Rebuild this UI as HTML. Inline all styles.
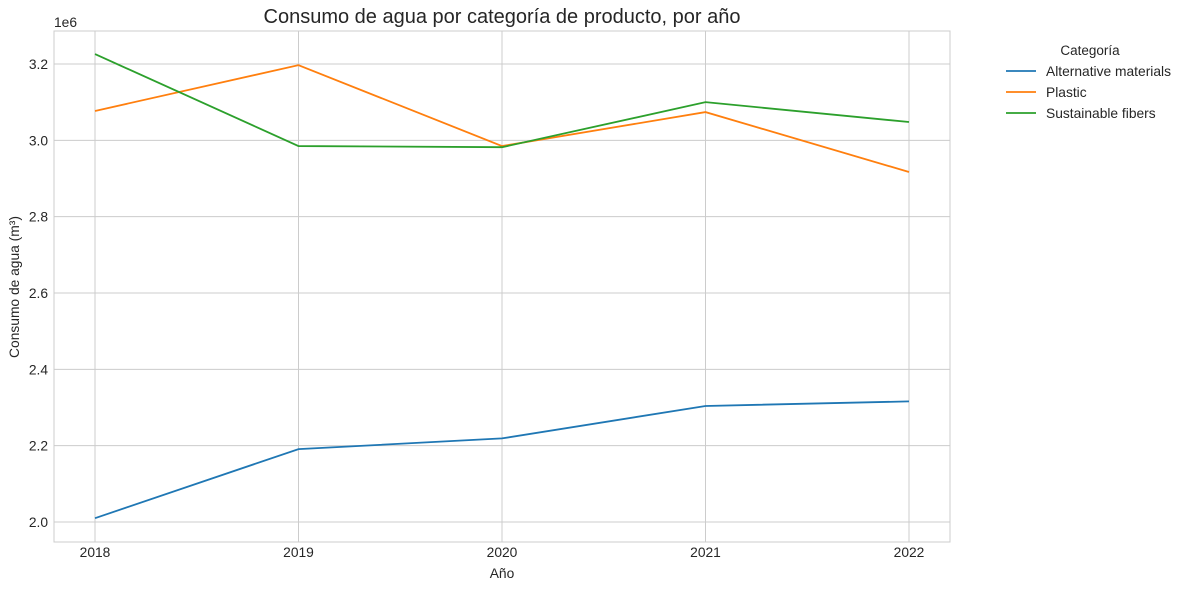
<!DOCTYPE html>
<html><head><meta charset="utf-8"><style>
body{margin:0;background:#fff;font-family:"Liberation Sans","DejaVu Sans",sans-serif;}
svg text{font-family:"Liberation Sans","DejaVu Sans",sans-serif;fill:#262626;}
</style></head><body>
<svg id="c" width="1188" height="590" xmlns="http://www.w3.org/2000/svg"></svg>
<script>
const years=[2018,2019,2020,2021,2022];
const altValues=[2.010e6,2.191e6,2.219e6,2.304e6,2.316e6];
const plasticValues=[3.077e6,3.197e6,2.985e6,3.074e6,2.917e6];
const fiberValues=[3.226e6,2.985e6,2.982e6,3.100e6,3.048e6];
const yTicks=[2.0,2.2,2.4,2.6,2.8,3.0,3.2];
const seriesNames=["Alternative materials","Plastic","Sustainable fibers"];
const colors=["#1f77b4","#ff7f0e","#2ca02c"];
const L=54,R=950,T=31,B=542;
const x=v=>95+(v-2018)*(909-95)/4;
const y=v=>522-(v/1e6-2.0)*(522-64)/1.2;
const svg=document.getElementById('c');
const NS="http://www.w3.org/2000/svg";
function mk(tag,attrs,parent){const e=document.createElementNS(NS,tag);for(const k in attrs)e.setAttribute(k,attrs[k]);(parent||svg).appendChild(e);return e;}
years.forEach(v=>{
const g=mk('line',{x1:x(v),x2:x(v),y1:T,y2:B,stroke:'#cccccc','stroke-width':1});


const t=mk('text',{x:x(v),y:557,'text-anchor':'middle','font-size':13.8});t.textContent=v;


});
yTicks.forEach(v=>{
const g=mk('line',{x1:L,x2:R,y1:y(v*1e6),y2:y(v*1e6),stroke:'#cccccc','stroke-width':1});


const t=mk('text',{x:48,y:y(v*1e6)+5,'text-anchor':'end','font-size':13.8});t.textContent=v.toFixed(1);


});
const fr=mk('rect',{x:L,y:T,width:R-L,height:B-T,fill:'none',stroke:'#cccccc','stroke-width':1});


[altValues,plasticValues,fiberValues].forEach((vals,i)=>{
const p=mk('polyline',{points:vals.map((v,j)=>x(years[j])+','+y(v)).join(' '),fill:'none',stroke:colors[i],'stroke-width':1.8});


});
function txt(s,a,name){const t=mk('text',a);t.textContent=s;return t;}
txt('Consumo de agua por categoría de producto, por año',{x:502,y:23,'text-anchor':'middle','font-size':20},'chart-title');
txt('1e6',{x:54,y:27,'font-size':13.8},'y-offset-label');
txt('Año',{x:502,y:578,'text-anchor':'middle','font-size':13.8},'x-axis-title');
txt('Consumo de agua (m³)',{x:0,y:0,'text-anchor':'middle','font-size':13.8,transform:'translate(19,287) rotate(-90)'},'y-axis-title');
txt('Categoría',{x:1090,y:55,'text-anchor':'middle','font-size':13.5},'legend-title');
seriesNames.forEach((n,i)=>{
const yy=71+i*21;
const l=mk('line',{x1:1006,x2:1036,y1:yy,y2:yy,stroke:colors[i],'stroke-width':1.8});


txt(n,{x:1046,y:yy+5,'font-size':13.8},'legend-entry');
});
</script>
</body></html>
